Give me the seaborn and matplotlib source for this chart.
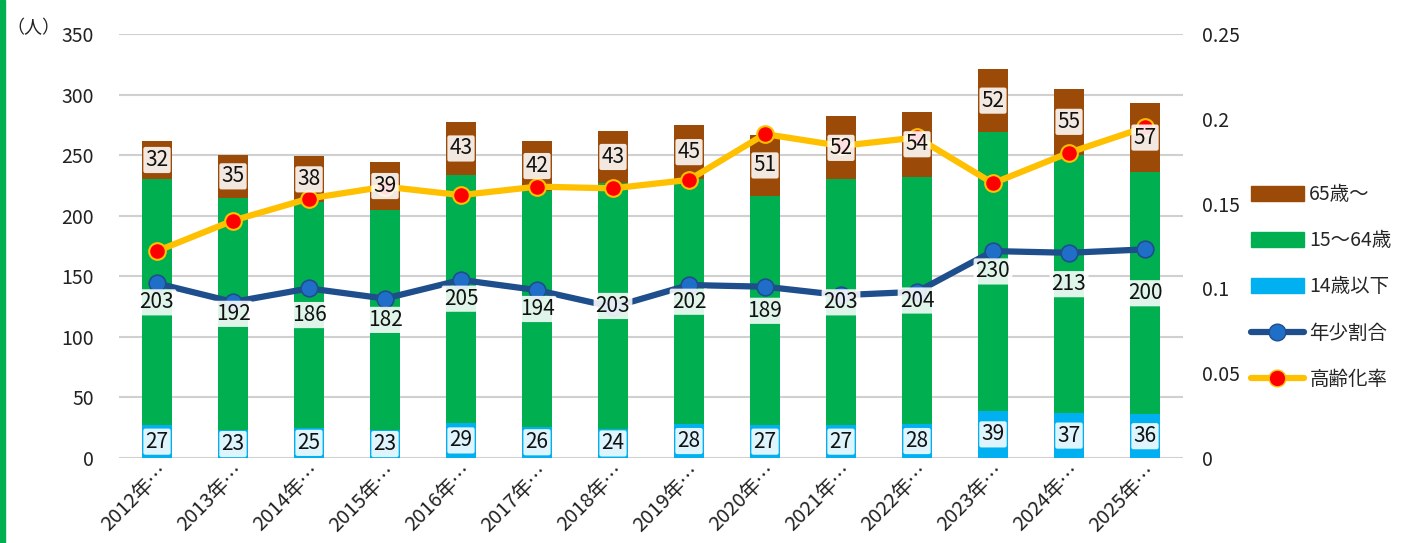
import numpy as np
import pandas as pd
import matplotlib
matplotlib.use('Agg')
import matplotlib.pyplot as plt
from matplotlib.patches import Patch, Rectangle
from matplotlib.lines import Line2D
import seaborn as sns

# --- data ---
years   = [f"{y}年…" for y in range(2012, 2026)]
young   = [27, 23, 25, 23, 29, 26, 24, 28, 27, 27, 28, 39, 37, 36]            # 14歳以下
working = [203, 192, 186, 182, 205, 194, 203, 202, 189, 203, 204, 230, 213, 200]  # 15～64歳
elderly = [32, 35, 38, 39, 43, 42, 43, 45, 51, 52, 54, 52, 55, 57]           # 65歳～
young_ratio = [0.103, 0.092, 0.100, 0.094, 0.105, 0.099, 0.089,
               0.102, 0.101, 0.096, 0.098, 0.122, 0.121, 0.123]              # 年少割合
aging_rate  = [0.122, 0.140, 0.153, 0.160, 0.155, 0.160, 0.159,
               0.164, 0.191, 0.184, 0.189, 0.162, 0.180, 0.195]              # 高齢化率

BROWN, GREEN, CYAN = '#9C4A08', '#00B050', '#00B0F0'
NAVY, DOT_BLUE = '#1F4E8C', '#1F6FC8'
GOLD, RED = '#FFC000', '#FF0000'

sns.set_style('white')
plt.rcParams['font.family'] = ['Noto Sans CJK JP', 'DejaVu Sans']

df = pd.DataFrame({'year': years, 'young': young, 'working': working, 'elderly': elderly})
df['top_green'] = df['young'] + df['working']
df['total'] = df['top_green'] + df['elderly']

fig = plt.figure(figsize=(14.07, 5.43), dpi=100)
ax = fig.add_axes([119/1407, 1-458/543, (1183-119)/1407, (458-34)/543])

# stacked look by overlaying cumulative bars
for col, c in [('total', BROWN), ('top_green', GREEN), ('young', CYAN)]:
    sns.barplot(data=df, x='year', y=col, color=c, width=0.4, saturation=1,
                linewidth=0, edgecolor='none', ax=ax, zorder=2)

ax.set_ylim(0, 350)
ax.set_xlim(-0.5, len(years) - 0.5)
ax.set_yticks(range(0, 351, 50))
ax.grid(axis='y', color='#D0D0D0', linewidth=1.5, zorder=0)
ax.set_axisbelow(True)
ax.set_xlabel('')
ax.set_ylabel('')
for s in ax.spines.values():
    s.set_visible(False)
ax.tick_params(axis='y', length=0, pad=18, labelsize=14, labelcolor='#222222')
ax.tick_params(axis='x', length=0, pad=2, labelsize=14.5, labelcolor='#222222')
plt.setp(ax.get_xticklabels(), rotation=45, ha='right', rotation_mode='anchor')

ax2 = ax.twinx()
x = np.arange(len(years))
sns.lineplot(x=x, y=young_ratio, ax=ax2, color=NAVY, linewidth=4.5, marker='o',
             markersize=12, markerfacecolor=DOT_BLUE, markeredgecolor=NAVY,
             markeredgewidth=1.2, zorder=3)
sns.lineplot(x=x, y=aging_rate, ax=ax2, color=GOLD, linewidth=4.5, marker='o',
             markersize=12, markerfacecolor=RED, markeredgecolor=GOLD,
             markeredgewidth=1.5, zorder=3)
ax2.set_ylim(0, 0.25)
ax2.set_yticks([0, 0.05, 0.1, 0.15, 0.2, 0.25])
ax2.set_yticklabels(['0', '0.05', '0.1', '0.15', '0.2', '0.25'])
ax2.tick_params(axis='y', length=0, pad=14, labelsize=14, labelcolor='#222222')
for s in ax2.spines.values():
    s.set_visible(False)
ax2.set_xlim(ax.get_xlim())

# data labels on top of everything
box = dict(boxstyle='round,pad=0.1', fc='white', ec='none', lw=0, alpha=0.88)
for i in range(len(years)):
    for yc, v in [(young[i] / 2, young[i]),
                  (young[i] + working[i] / 2, working[i]),
                  (young[i] + working[i] + elderly[i] / 2, elderly[i])]:
        ax2.text(i, yc, str(v), transform=ax.transData, ha='center', va='center',
                 fontsize=15, color='#111111', bbox=box, zorder=5)

fig.text(6/1407, 1-28/543, '（人）', fontsize=13, va='center', ha='left', color='#222222')

# green accent strip on the left edge
fig.patches.append(Rectangle((0, 0), 5/1407, 1, transform=fig.transFigure,
                             color=GREEN, zorder=0))

handles = [Patch(color=BROWN), Patch(color=GREEN), Patch(color=CYAN),
           Line2D([], [], color=NAVY, lw=4.5, marker='o', ms=12,
                  mfc=DOT_BLUE, mec=NAVY),
           Line2D([], [], color=GOLD, lw=4.5, marker='o', ms=12,
                  mfc=RED, mec=GOLD)]
labels = ['65歳～', '15～64歳', '14歳以下', '年少割合', '高齢化率']
fig.legend(handles, labels, loc='center left', bbox_to_anchor=(1251/1407, 1-287/543),
           frameon=False, fontsize=14, handlelength=2.7, handleheight=0.8,
           labelspacing=1.3, handletextpad=0.3, borderaxespad=0, borderpad=0)

fig.savefig('out.png', dpi=100, facecolor='white')
